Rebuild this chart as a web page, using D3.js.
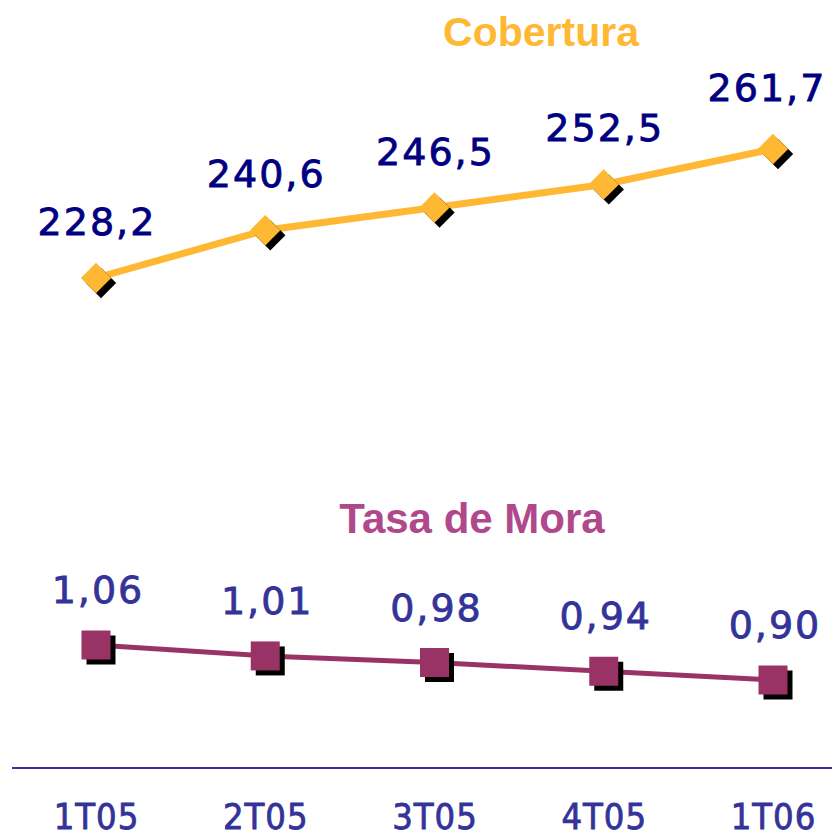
<!DOCTYPE html>
<html>
<head>
<meta charset="utf-8">
<script src="https://cdn.jsdelivr.net/npm/d3@7"></script>
<style>
  body { margin: 0; background: #fff; }
  svg { display: block; }
</style>
</head>
<body>
<svg id="chart"></svg>
<script>
"use strict";

// datos
var categorias = ["1T05", "2T05", "3T05", "4T05", "1T06"];
var cobertura = [228.2, 240.6, 246.5, 252.5, 261.7];
var tasaMora = [1.06, 1.01, 0.98, 0.94, 0.90];
var etiquetasCobertura = ["228,2", "240,6", "246,5", "252,5", "261,7"];
var etiquetasMora = ["1,06", "1,01", "0,98", "0,94", "0,90"];

var W = 832, H = 839;

var svg = d3.select("#chart")
    .attr("width", W)
    .attr("height", H);

var x = d3.scalePoint()
    .domain(categorias)
    .range([96, 773]);

var yCob = d3.scaleLinear()
    .domain([228.2, 261.7])
    .range([278, 149]);

var yMora = d3.scaleLinear()
    .domain([0.90, 1.06])
    .range([680, 645]);

// títulos
svg.append("text")
    .attr("x", 541).attr("y", 46)
    .attr("text-anchor", "middle")
    .attr("font-family", "Liberation Sans, Arial, sans-serif")
    .attr("font-weight", "bold")
    .attr("font-size", 41)
    .attr("fill", "#FFB833")
    .text("Cobertura");

svg.append("text")
    .attr("x", 472).attr("y", 533)
    .attr("text-anchor", "middle")
    .attr("font-family", "Liberation Sans, Arial, sans-serif")
    .attr("font-weight", "bold")
    .attr("font-size", 42)
    .attr("fill", "#B0498B")
    .text("Tasa de Mora");

// serie Cobertura
var cobData = categorias.map((c, i) => ({ c: c, v: cobertura[i], t: etiquetasCobertura[i] }));

svg.append("path")
    .datum(cobData)
    .attr("fill", "none")
    .attr("stroke", "#FFB833")
    .attr("stroke-width", 7)
    .attr("d", d3.line().x(d => x(d.c)).y(d => yCob(d.v)));

var diamante = d3.symbol().type(d3.symbolSquare).size(460);

svg.append("g").selectAll("path")
    .data(cobData).join("path")
    .attr("d", diamante)
    .attr("fill", "#000")
    .attr("transform", d => `translate(${x(d.c) + 5}, ${yCob(d.v) + 5}) rotate(45)`);

svg.append("g").selectAll("path")
    .data(cobData).join("path")
    .attr("d", diamante)
    .attr("fill", "#FFB833")
    .attr("transform", d => `translate(${x(d.c)}, ${yCob(d.v)}) rotate(45)`);

svg.append("g").selectAll("text")
    .data(cobData).join("text")
    .attr("x", (d, i) => x(d.c) + (i === 4 ? -6 : 1))
    .attr("y", (d, i) => yCob(d.v) - (i === 4 ? 48 : 43))
    .attr("text-anchor", "middle")
    .attr("font-family", "DejaVu Sans, Verdana, sans-serif")
    .attr("font-size", 38)
    .attr("letter-spacing", 2)
    .attr("fill", "#000080")
    .attr("stroke", "#000080")
    .attr("stroke-width", 0.8)
    .text(d => d.t);

// serie Tasa de Mora
var moraData = categorias.map((c, i) => ({ c: c, v: tasaMora[i], t: etiquetasMora[i] }));

svg.append("path")
    .datum(moraData)
    .attr("fill", "none")
    .attr("stroke", "#993366")
    .attr("stroke-width", 5)
    .attr("d", d3.line().x(d => x(d.c)).y(d => yMora(d.v)));

var lado = 29;

svg.append("g").selectAll("rect")
    .data(moraData).join("rect")
    .attr("x", d => x(d.c) - lado / 2 + 5)
    .attr("y", d => yMora(d.v) - lado / 2 + 5)
    .attr("width", lado).attr("height", lado)
    .attr("fill", "#000");

svg.append("g").selectAll("rect")
    .data(moraData).join("rect")
    .attr("x", d => x(d.c) - lado / 2)
    .attr("y", d => yMora(d.v) - lado / 2)
    .attr("width", lado).attr("height", lado)
    .attr("fill", "#993366");

svg.append("g").selectAll("text")
    .data(moraData).join("text")
    .attr("x", d => x(d.c) + 2)
    .attr("y", d => yMora(d.v) - 42)
    .attr("text-anchor", "middle")
    .attr("font-family", "DejaVu Sans, Verdana, sans-serif")
    .attr("font-size", 38)
    .attr("letter-spacing", 2)
    .attr("fill", "#333399")
    .attr("stroke", "#333399")
    .attr("stroke-width", 0.8)
    .text(d => d.t);

// eje inferior
svg.append("line")
    .attr("x1", 12).attr("x2", W)
    .attr("y1", 768).attr("y2", 768)
    .attr("stroke", "#333399")
    .attr("stroke-width", 2);

var eje = svg.append("g")
    .attr("transform", "translate(0, 829)")
    .call(d3.axisBottom(x).tickSize(0).tickPadding(0));
eje.select(".domain").remove();
eje.selectAll("text")
    .attr("dy", 0)
    .attr("font-family", "DejaVu Sans Condensed, DejaVu Sans, sans-serif")
    .attr("font-size", 36)
    .attr("letter-spacing", 1)
    .attr("fill", "#333399")
    .attr("stroke", "#333399")
    .attr("stroke-width", 0.8);
</script>
</body>
</html>
